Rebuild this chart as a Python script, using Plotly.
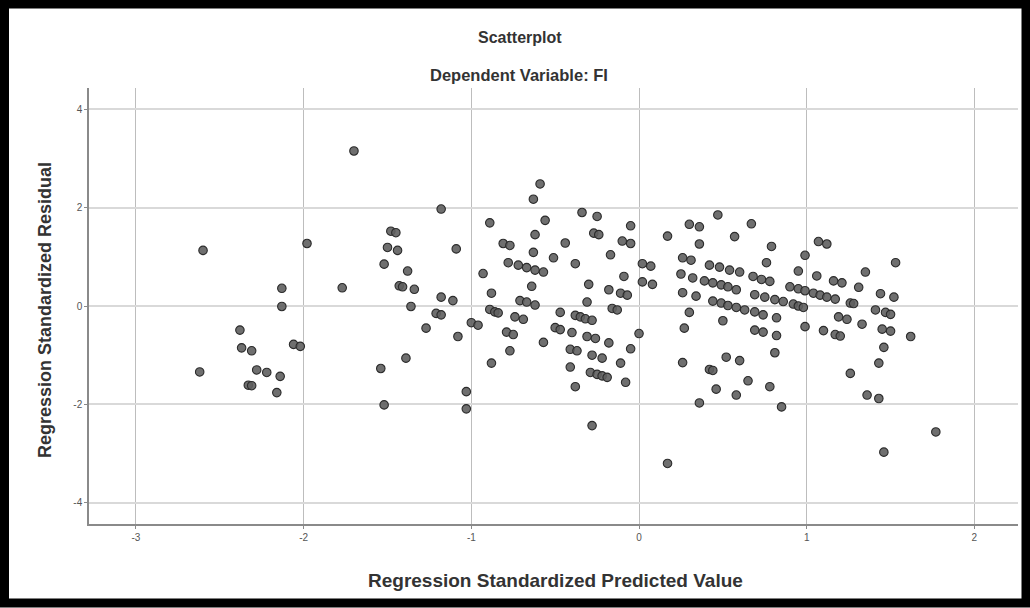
import plotly.graph_objects as go

# Regression standardized predicted value (x) and standardized residual (y)
pred = [
    -2.60, -1.98, -2.13, -2.13, -2.38, -2.37, -2.31, -2.06, -2.02, -2.62,
    -2.28, -2.22, -2.14, -2.33, -2.31, -2.16, -1.77, -1.70, -1.52, -1.54,
    -1.39, -1.27, -1.21, -1.18, -1.36, -1.34, -1.43, -1.41, -1.38, -1.52,
    -1.50, -1.44, -1.48, -1.45, -1.18, -1.18, -1.11, -1.09, -1.08, -1.00,
    -0.96, -1.03, -1.03, -0.88, -0.89, -0.86, -0.84, -0.88, -0.89, -0.93,
    -0.81, -0.77, -0.78, -0.72, -0.67, -0.62, -0.57, -0.63, -0.62, -0.63,
    -0.59, -0.56, -0.51, -0.44, -0.38, -0.34, -0.25, -0.27, -0.24, -0.05,
    -0.10, -0.05, -0.17, -0.64, -0.30, -0.09, -0.18, -0.11, -0.07, -0.71,
    -0.67, -0.62, -0.74, -0.69, -0.79, -0.75, -0.77, -0.57, -0.47, -0.31,
    -0.38, -0.35, -0.32, -0.28, -0.16, -0.13, -0.50, -0.47, -0.40, -0.31,
    -0.26, -0.18, 0.00, -0.05, -0.41, -0.37, -0.28, -0.22, -0.11, -0.41,
    -0.29, -0.25, -0.22, -0.19, -0.08, -0.38, -0.28,
    0.02, 0.07, 0.02, 0.08, 0.17, 0.17, 0.26, 0.31, 0.25, 0.32,
    0.26, 0.34, 0.30, 0.27, 0.26, 0.36, 0.30, 0.36, 0.36, 0.47,
    0.67, 0.57, 0.79, 0.99, 1.07, 1.12, 0.76, 0.42, 0.48, 0.54,
    0.60, 0.95, 1.06, 0.68, 0.73, 0.78, 0.39, 0.44, 0.49, 0.53,
    0.58, 0.44, 0.49, 0.53, 0.58, 0.63, 0.69, 0.74, 0.69, 0.75,
    0.81, 0.86, 0.92, 0.95, 0.98, 0.90, 0.95, 0.99, 1.04, 1.08,
    1.12, 1.17, 0.82, 0.50, 0.99, 1.10, 0.69, 0.74, 0.82, 0.81,
    0.52, 0.60, 0.42, 0.44, 0.65, 0.78, 0.46, 0.58, 0.85, 1.16,
    1.21, 1.31, 1.35, 1.53, 1.26, 1.28, 1.44, 1.52, 1.41, 1.47,
    1.50, 1.19, 1.24, 1.33, 1.45, 1.50, 1.17, 1.20, 1.62, 1.46,
    1.43, 1.26, 1.36, 1.43, 1.46, 1.77,
]
resid = [
    1.13, 1.27, 0.36, -0.01, -0.49, -0.85, -0.91, -0.78, -0.82, -1.34,
    -1.30, -1.35, -1.43, -1.61, -1.62, -1.76, 0.37, 3.15, -2.01, -1.27,
    -1.06, -0.45, -0.15, -0.18, -0.01, 0.34, 0.41, 0.39, 0.71, 0.85,
    1.19, 1.13, 1.52, 1.49, 0.18, 1.97, 0.11, 1.16, -0.62, -0.34,
    -0.39, -1.74, -2.09, -1.16, -0.07, -0.12, -0.14, 0.26, 1.69, 0.66,
    1.27, 1.23, 0.88, 0.83, 0.78, 0.73, 0.69, 1.09, 1.45, 2.17,
    2.48, 1.74, 0.98, 1.28, 0.86, 1.90, 1.82, 1.48, 1.45, 1.63,
    1.32, 1.27, 1.04, 0.40, 0.44, 0.60, 0.33, 0.26, 0.22, 0.11,
    0.08, 0.02, -0.22, -0.27, -0.53, -0.58, -0.91, -0.74, -0.13, 0.08,
    -0.19, -0.22, -0.26, -0.29, -0.05, -0.08, -0.44, -0.48, -0.54, -0.62,
    -0.66, -0.75, -0.56, -0.87, -0.88, -0.91, -1.00, -1.06, -1.16, -1.24,
    -1.35, -1.39, -1.42, -1.45, -1.55, -1.64, -2.43,
    0.86, 0.81, 0.49, 0.44, 1.42, -3.20, 0.98, 0.93, 0.65, 0.57,
    0.27, 0.20, -0.13, -0.45, -1.15, -1.97, 1.66, 1.61, 1.26, 1.85,
    1.67, 1.41, 1.21, 1.03, 1.31, 1.26, 0.88, 0.83, 0.79, 0.73,
    0.69, 0.71, 0.61, 0.60, 0.54, 0.50, 0.51, 0.47, 0.43, 0.39,
    0.33, 0.10, 0.06, 0.01, -0.03, -0.08, -0.12, -0.18, 0.23, 0.18,
    0.13, 0.09, 0.04, 0.00, -0.03, 0.39, 0.35, 0.31, 0.26, 0.22,
    0.18, 0.14, -0.24, -0.30, -0.42, -0.50, -0.49, -0.53, -0.60, -0.95,
    -1.04, -1.11, -1.29, -1.31, -1.52, -1.64, -1.69, -1.81, -2.05, 0.51,
    0.47, 0.38, 0.69, 0.88, 0.06, 0.05, 0.25, 0.18, -0.08, -0.13,
    -0.17, -0.22, -0.27, -0.37, -0.47, -0.51, -0.58, -0.61, -0.62, -0.84,
    -1.16, -1.37, -1.81, -1.88, -2.97, -2.56,
]

x_ticks = [-3, -2, -1, 0, 1, 2]
y_ticks = [-4, -2, 0, 2, 4]

title_main = "Scatterplot"
title_sub = "Dependent Variable: FI"
x_title = "Regression Standardized Predicted Value"
y_title = "Regression Standardized Residual"

# plot-area pixel frame (used only to place text / border in paper coords)
W, H = 1030, 608
L, R, T, B = 89, 1018, 88, 524


def px(xp):
    return (xp - L) / (R - L)


def py(yp):
    return (B - yp) / (B - T)


fig = go.Figure()
fig.add_trace(go.Scatter(
    x=pred, y=resid, mode="markers",
    marker=dict(size=8.5, color="rgba(95,95,95,0.9)",
                line=dict(color="#2b2b2b", width=1.1)),
    hoverinfo="x+y", showlegend=False,
))

font_family = "Liberation Sans, Arial, sans-serif"


def label(text, xp, yp, size, angle=0):
    return dict(text="<b>" + text + "</b>", xref="paper", yref="paper",
                x=px(xp), y=py(yp), xanchor="center", yanchor="middle",
                showarrow=False, textangle=angle,
                font=dict(size=size, color="#333", family=font_family))


fig.update_layout(
    width=W, height=H,
    margin=dict(l=L, r=W - R, t=T, b=H - B, pad=0),
    paper_bgcolor="white", plot_bgcolor="white",
    font=dict(family=font_family, color="#333"),
    xaxis=dict(
        range=[-3.28, 2.26], tickvals=x_ticks,
        ticktext=[str(v) for v in x_ticks],
        showgrid=True, gridcolor="#bdbdbd", gridwidth=1,
        zeroline=False, showline=True, linecolor="#8a8a8a", linewidth=1.5,
        ticks="outside", ticklen=3, tickcolor="#8a8a8a",
        tickfont=dict(size=10, color="#555", family=font_family),
    ),
    yaxis=dict(
        range=[-4.43, 4.43], tickvals=y_ticks,
        ticktext=[str(v) for v in y_ticks],
        showgrid=True, gridcolor="#d9d9d9", gridwidth=1.6,
        zeroline=False, showline=True, linecolor="#8a8a8a", linewidth=1.5,
        ticks="outside", ticklen=3, tickcolor="#8a8a8a",
        tickfont=dict(size=10, color="#555", family=font_family),
    ),
    annotations=[
        label(title_main, 520, 38, 16),
        label(title_sub, 519, 75, 16.5),
        label(x_title, 555, 580, 19),
        label(y_title, 45, 310, 18, -90),
    ],
    shapes=[
        dict(type="rect", xref="paper", yref="paper",
             x0=px(4.5), x1=px(1026), y0=py(603), y1=py(4),
             line=dict(color="black", width=9), fillcolor="rgba(0,0,0,0)",
             layer="above"),
    ],
)

fig.write_html("out.html",
               config={"displayModeBar": False},
               post_script="document.body.style.margin='0px';"
                           "document.body.style.overflow='hidden';")
